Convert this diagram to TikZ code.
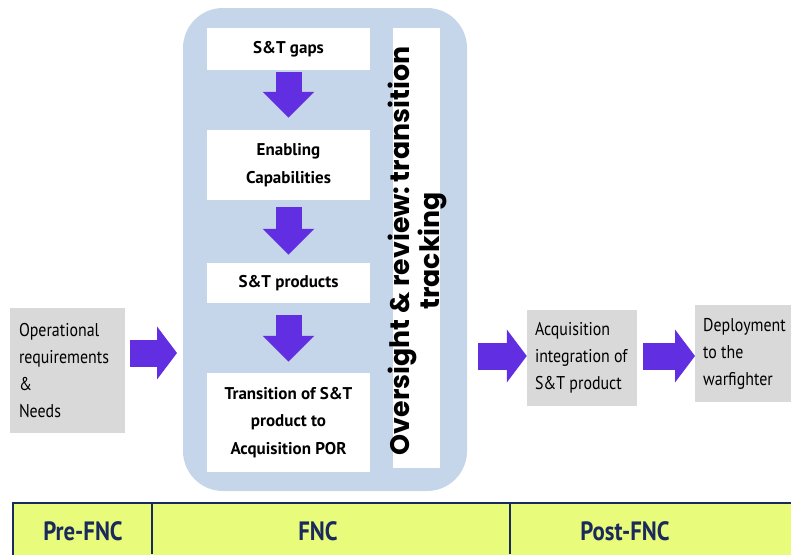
\documentclass[tikz,border=0pt]{standalone}
\usepackage{fontspec}
\setmainfont{PT Sans}
\newfontfamily\geofont{Poppins}
\newfontfamily\narrowfont[FakeStretch=0.86]{PT Sans}
\usetikzlibrary{arrows.meta}

\definecolor{panelblue}{HTML}{C6D6EA}
\definecolor{flowpurple}{HTML}{622EE2}
\definecolor{boxgray}{HTML}{D9D9D9}
\definecolor{barlime}{HTML}{E9FB7A}
\definecolor{barnavy}{HTML}{1A2A5C}

\tikzset{
  stagebox/.style={fill=white, draw=none, minimum width=163pt, inner sep=0pt,
    font=\bfseries\fontsize{17}{27.5}\selectfont, align=center},
  sidebox/.style={fill=boxgray, draw=none, inner sep=0pt},
  sidetext/.style={font=\narrowfont\fontsize{18.5}{27}\selectfont, align=left, inner sep=0pt, anchor=west},
  downarrow/.style={draw=flowpurple, line width=26pt,
    -{Triangle[width=50pt,length=26pt]}},
  rightarrow/.style={draw=flowpurple, line width=27pt,
    -{Triangle[width=52pt,length=20pt]}},
  phase/.style={font=\narrowfont\bfseries\fontsize{26.5}{27}\selectfont, text=barnavy, inner sep=0pt},
}

\begin{document}
\begin{tikzpicture}[x=1pt,y=-1pt]
\useasboundingbox (0,0) rectangle (791,554);

% FNC panel
\fill[panelblue, rounded corners=40pt] (183,8) rectangle (467,491);

% stage boxes inside the panel
\node[stagebox, minimum height=42pt] (gaps) at (288.5,49) {S\&T gaps};
\node[stagebox, minimum height=70pt] (enab) at (288.5,165) {Enabling\\Capabilities};
\node[stagebox, minimum height=40pt] (prod) at (288.5,283) {S\&T products};
\node[stagebox, minimum height=99pt] (trans) at (288.5,422.5) {Transition of S\&T\\product to\\Acquisition POR};

% oversight column
\node[fill=white, minimum width=47pt, minimum height=440pt, inner sep=0pt] (over) at (416.5,248) {};
\node[rotate=90, align=center, inner sep=0pt,
  font=\geofont\bfseries\fontsize{26.8}{25}\selectfont] (overtext) at ([xshift=1pt,yshift=-3pt]over.center)
  {Oversight \& review:\,transition\\tracking};

% arrows between stages
\draw[downarrow] ([yshift=-2pt]gaps.south) -- ([yshift=12pt]enab.north);
\draw[downarrow] ([yshift=-7pt]enab.south) -- ([yshift=8pt]prod.north);
\draw[downarrow] ([yshift=-12pt]prod.south) -- ([yshift=11pt]trans.north);

% pre- and post-FNC boxes
\node[sidebox, minimum width=115pt, minimum height=125pt] (ops) at (67.5,370.5) {};
\node[sidetext] at ([xshift=9pt]ops.west) {Operational\\requirements\\\&\\Needs};

\node[sidebox, minimum width=110pt, minimum height=96pt] (acq) at (582,358) {};
\node[sidetext] at ([xshift=8pt]acq.west) {Acquisition\\integration of\\S\&T product};

\node[sidebox, minimum width=100pt, minimum height=97pt, anchor=north west] (dep) at (695,305) {};
\node[sidetext] at ([xshift=8pt]dep.west) {Deployment\\to the\\warfighter};

% horizontal flow arrows
\coordinate (opsend) at (ops.east |- 0,353);
\draw[rightarrow] ([xshift=5pt]opsend) -- (177,353) coordinate (panelin);
\coordinate (panelout) at (478,356);
\draw[rightarrow] (panelout) -- (acq.west |- panelout);
\draw[rightarrow] ([xshift=6pt]acq.east |- panelout) -- (dep.west |- panelout);

% phase bar
\draw[barnavy, line width=2pt, fill=barlime] (13,503) rectangle (800,570);
\draw[barnavy, line width=1.5pt] (152,503) -- (152,554) (510,503) -- (510,554);
\node[phase] (pre) at (83,531) {Pre-FNC};
\node[phase] (fnc) at (318,531) {FNC};
\node[phase] (post) at (625,531) {Post-FNC};
\end{tikzpicture}
\end{document}
